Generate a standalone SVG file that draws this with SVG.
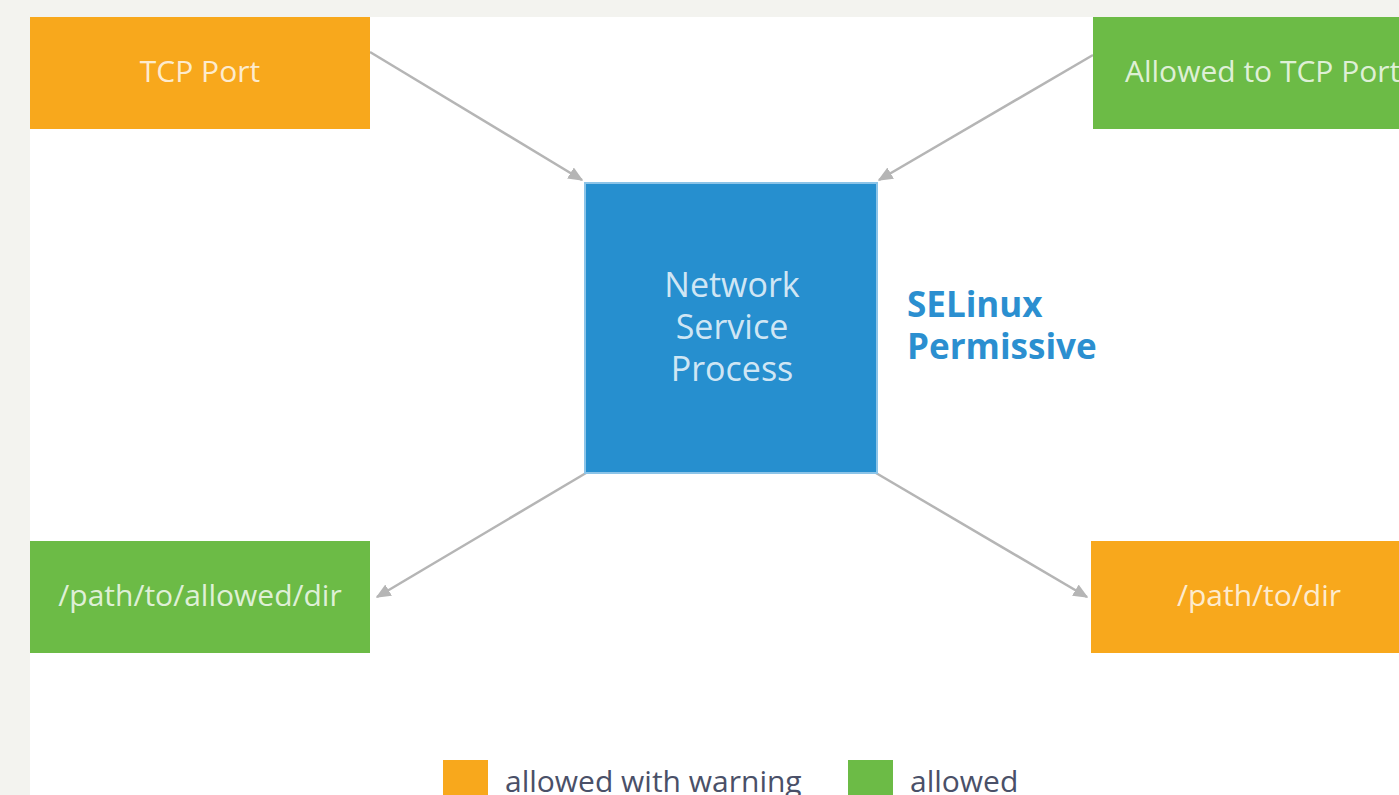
<svg xmlns="http://www.w3.org/2000/svg" width="1399" height="795" viewBox="0 0 1399 795">
<defs>
<style>
.bg{fill:#f3f3ef}
.orange{fill:#f8a81c}
.green{fill:#6cbb46}
.blue{fill:#268fcf}
.lbl{font-family:"Open Sans","Liberation Sans",sans-serif;font-size:30px;fill:#ffffff;fill-opacity:0.8;text-anchor:middle}
.big{font-size:34px}
.conn{stroke:#b5b5b5;stroke-width:2.5;fill:none;marker-end:url(#ah)}
.leg{font-family:"Open Sans","Liberation Sans",sans-serif;font-size:30px;fill:#4a5068}
.sel{font-family:"Open Sans","Liberation Sans",sans-serif;font-size:35px;font-weight:bold;fill:#2b8fd0}
</style>
<marker id="ah" viewBox="0 0 10 10" refX="9" refY="5" markerWidth="15" markerHeight="13" markerUnits="userSpaceOnUse" orient="auto" preserveAspectRatio="none">
<path d="M0,0 L10,5 L0,10 z" fill="#b5b5b5"/>
</marker>
</defs>
<rect class="bg" x="0" y="0" width="1399" height="795"/>
<rect x="30" y="17" width="1369" height="778" fill="#ffffff"/>
<g id="connectors">
<line class="conn" x1="370" y1="52" x2="582" y2="180"/>
<line class="conn" x1="1093" y1="55" x2="879" y2="180"/>
<line class="conn" x1="586" y1="473" x2="377" y2="597"/>
<line class="conn" x1="876" y1="473" x2="1087" y2="597"/>
</g>
<g id="tcp-port">
<rect class="orange" x="30" y="17" width="340" height="112"/>
<text class="lbl" x="200" y="82">TCP Port</text>
</g>
<g id="allowed-tcp-port">
<rect class="green" x="1093" y="17" width="306" height="112"/>
<text class="lbl" x="1125" y="82" style="text-anchor:start">Allowed to TCP Port</text>
</g>
<g id="process">
<rect class="blue" x="585" y="183" width="292" height="290" stroke="#8cc4e8" stroke-width="2"/>
<text class="lbl big" x="732" y="297">Network</text>
<text class="lbl big" x="732" y="339">Service</text>
<text class="lbl big" x="732" y="381">Process</text>
</g>
<g id="selinux-label">
<text class="sel" x="907" y="317">SELinux</text>
<text class="sel" x="907" y="359">Permissive</text>
</g>
<g id="allowed-dir">
<rect class="green" x="30" y="541" width="340" height="112"/>
<text class="lbl" x="200" y="606">/path/to/allowed/dir</text>
</g>
<g id="dir">
<rect class="orange" x="1091" y="541" width="308" height="112"/>
<text class="lbl" x="1259" y="606">/path/to/dir</text>
</g>
<g id="legend">
<rect class="orange" x="443" y="760" width="45" height="40"/>
<text class="leg" x="505" y="792">allowed with warning</text>
<rect class="green" x="848" y="760" width="45" height="40"/>
<text class="leg" x="910" y="792">allowed</text>
</g>
</svg>
